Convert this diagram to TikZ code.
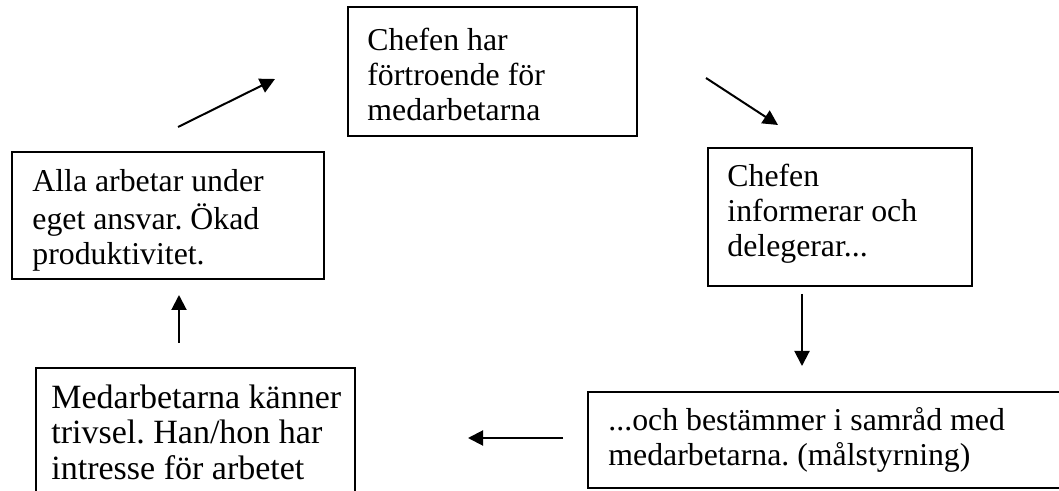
\documentclass[tikz,border=0pt]{standalone}
\usepackage{fontspec}
\setmainfont{Liberation Serif}
\usetikzlibrary{arrows.meta}
\frenchspacing
\begin{document}
\begin{tikzpicture}[x=0.5pt,y=-0.5pt,
  boxstyle/.style={draw, line width=1pt, inner sep=0pt, anchor=north west},
  txt/.style={anchor=north west, inner sep=0pt, align=left,
    font=\fontsize{15.9pt}{17.5pt}\selectfont},
  bigtxt/.style={txt, font=\fontsize{17pt}{17.7pt}\selectfont},
  arr/.style={-{Triangle[length=7.5pt,width=7.5pt]}, line width=1pt}]
\useasboundingbox (0,0) rectangle (1059,491);
\clip (0,0) rectangle (1059,491);

% boxes
\node[boxstyle, minimum width=144.5pt, minimum height=64.5pt] (b1) at (347,6) {};
\node[boxstyle, minimum width=132pt, minimum height=69pt] (b2) at (707,147) {};
\node[boxstyle, minimum width=156pt, minimum height=63.5pt] (b3) at (11,151) {};
\node[boxstyle, minimum width=159.5pt, minimum height=80pt] (b4) at (35,367) {};
\node[boxstyle, minimum width=244pt, minimum height=48pt] (b5) at (587,391) {};

% texts
\node[txt] (t1) at (367,25.5) {\strut Chefen har\\förtroende för\\medarbetarna};
\node[txt] (t2) at (727,161.5) {\strut Chefen\\informerar och\\delegerar...};
\node[txt] (t3) at (32,166.5) {\strut Alla arbetar under\\eget ansvar. Ökad\\produktivitet.};
\node[bigtxt] (t4) at (51,383.2) {\strut Medarbetarna känner\\trivsel. Han/hon har\\intresse för arbetet};
\node[txt] (t5) at (608,405.5) {\strut ...och bestämmer i samråd med\\medarbetarna. (målstyrning)};

% arrow end points
\coordinate (a1s) at (178,127);
\coordinate (a1e) at (275,79);
\coordinate (a2s) at (706,78);
\coordinate (a2e) at (778,125);
\coordinate (a3s) at (802,294);
\coordinate (a3e) at (802,366);
\coordinate (a4s) at (563,438);
\coordinate (a4e) at (468,438);
\coordinate (a5s) at (179,343);
\coordinate (a5e) at (179,295);

\draw[arr] (a1s) -- (a1e);
\draw[arr] (a2s) -- (a2e);
\draw[arr] (a3s) -- (a3e);
\draw[arr] (a4s) -- (a4e);
\draw[arr] (a5s) -- (a5e);
\end{tikzpicture}
\end{document}
